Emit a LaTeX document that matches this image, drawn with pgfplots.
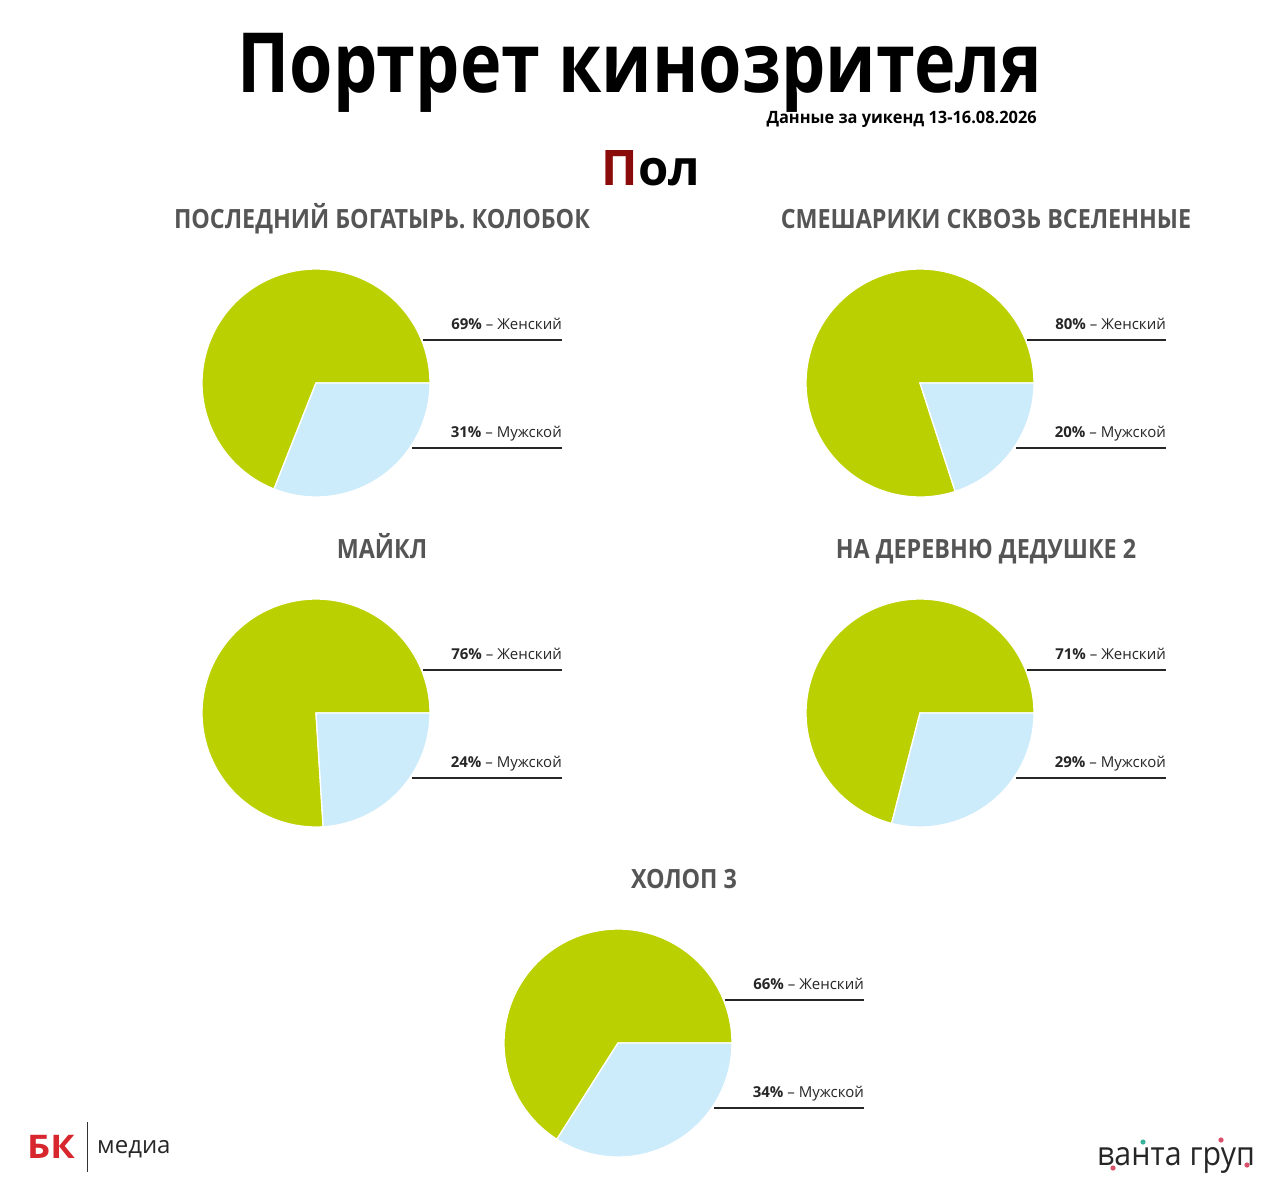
\documentclass[border=0pt]{standalone}
\usepackage{pgfplots}
\pgfplotsset{compat=1.18}
\usepackage{fontspec}
\setmainfont{Open Sans}
\newfontfamily\condb[FakeStretch=0.88]{Open Sans}
\newfontfamily\subf[FakeStretch=0.965]{Open Sans}
\newfontfamily\titlef[FakeStretch=0.845]{Open Sans}
\newfontfamily\wideb[FakeStretch=1.12]{Open Sans}
\newfontfamily\vantaf[FakeStretch=0.92]{Open Sans}
\definecolor{pgreen}{HTML}{BBD000}
\definecolor{pblue}{HTML}{CCEBFB}
\definecolor{ttlgray}{HTML}{555555}
\definecolor{darkred}{HTML}{8B0A0A}
\definecolor{bkred}{HTML}{D7262E}
\definecolor{vteal}{HTML}{3BB39A}
\definecolor{vpink}{HTML}{D9506A}
\newcommand{\piechart}[5]{%
  \pgfmathsetmacro\fa{#3*3.6}%
  \pgfmathsetmacro\ma{-#4*3.6}%
  \begin{axis}[at={(#1pt,-#2pt)}, anchor=center, width=228pt, height=228pt,
    scale only axis, hide axis, xmin=-1, xmax=1, ymin=-1, ymax=1, clip=false]
    \addplot[fill=pgreen, draw=white, line width=1.3pt, domain=0:\fa, samples=150]
      ({cos(x)}, {sin(x)}) -- (axis cs:0,0) -- cycle;
    \addplot[fill=pblue, draw=white, line width=1.3pt, domain=\ma:0, samples=80]
      ({cos(x)}, {sin(x)}) -- (axis cs:0,0) -- cycle;
  \end{axis}
  \draw[line width=1.6pt, color=black!85] (#1pt+107pt,-#2pt+43pt) -- (#1pt+246pt,-#2pt+43pt);
  \draw[line width=1.6pt, color=black!85] (#1pt+96pt,-#2pt-65pt) -- (#1pt+246pt,-#2pt-65pt);
  \node[anchor=base east, inner sep=0pt, font=\fontsize{15}{18}\selectfont, text=black!85]
    at (#1pt+246pt,-#2pt+54pt) {\textbf{#3\%} – Женский};
  \node[anchor=base east, inner sep=0pt, font=\fontsize{15}{18}\selectfont, text=black!85]
    at (#1pt+246pt,-#2pt-54pt+0pt) {\textbf{#4\%} – Мужской};
  \node[anchor=base, inner sep=0pt, font=\condb\bfseries\fontsize{26.5}{30}\selectfont, text=ttlgray]
    at (#1pt+66pt,-#2pt+155pt) {#5};
}
\begin{document}
\begin{tikzpicture}
\fill[white] (0pt,0pt) rectangle (1280pt,-1187pt);
\node[anchor=base, inner sep=0pt, font=\titlef\bfseries\fontsize{83}{90}\selectfont] at (640pt,-92pt) {Портрет кинозрителя};
\node[anchor=base east, inner sep=0pt, font=\subf\bfseries\fontsize{17}{20}\selectfont] at (1037pt,-123pt) {Данные за уикенд 13-16.08.2026};
\node[anchor=base, inner sep=0pt, font=\bfseries\fontsize{49}{55}\selectfont] at (651pt,-185pt) {\textcolor{darkred}{П}ол};
\piechart{316}{383}{69}{31}{ПОСЛЕДНИЙ БОГАТЫРЬ. КОЛОБОК}
\piechart{920}{383}{80}{20}{СМЕШАРИКИ СКВОЗЬ ВСЕЛЕННЫЕ}
\piechart{316}{713}{76}{24}{МАЙКЛ}
\piechart{920}{713}{71}{29}{НА ДЕРЕВНЮ ДЕДУШКЕ 2}
\piechart{618}{1043}{66}{34}{ХОЛОП 3}
% logos
\node[anchor=base west, inner sep=0pt, font=\wideb\bfseries\fontsize{32.5}{34}\selectfont, text=bkred] at (27pt,-1158pt) {БК};
\draw[line width=1pt, black!80] (87pt,-1122pt) -- (87pt,-1172pt);
\node[anchor=base west, inner sep=0pt, font=\fontsize{24}{26}\selectfont, text=black!85] at (97pt,-1153pt) {медиа};
\node[anchor=base west, inner sep=0pt, font=\vantaf\fontsize{33}{36}\selectfont, text=black!85] at (1097pt,-1165pt) {ванта груп};
\fill[vteal] (1143pt,-1142pt) circle (2.6pt);
\fill[vpink] (1113pt,-1168pt) circle (2.6pt);
\fill[vpink] (1221pt,-1140pt) circle (2.6pt);
\fill[vpink] (1247pt,-1165pt) circle (2.6pt);
\end{tikzpicture}
\end{document}
